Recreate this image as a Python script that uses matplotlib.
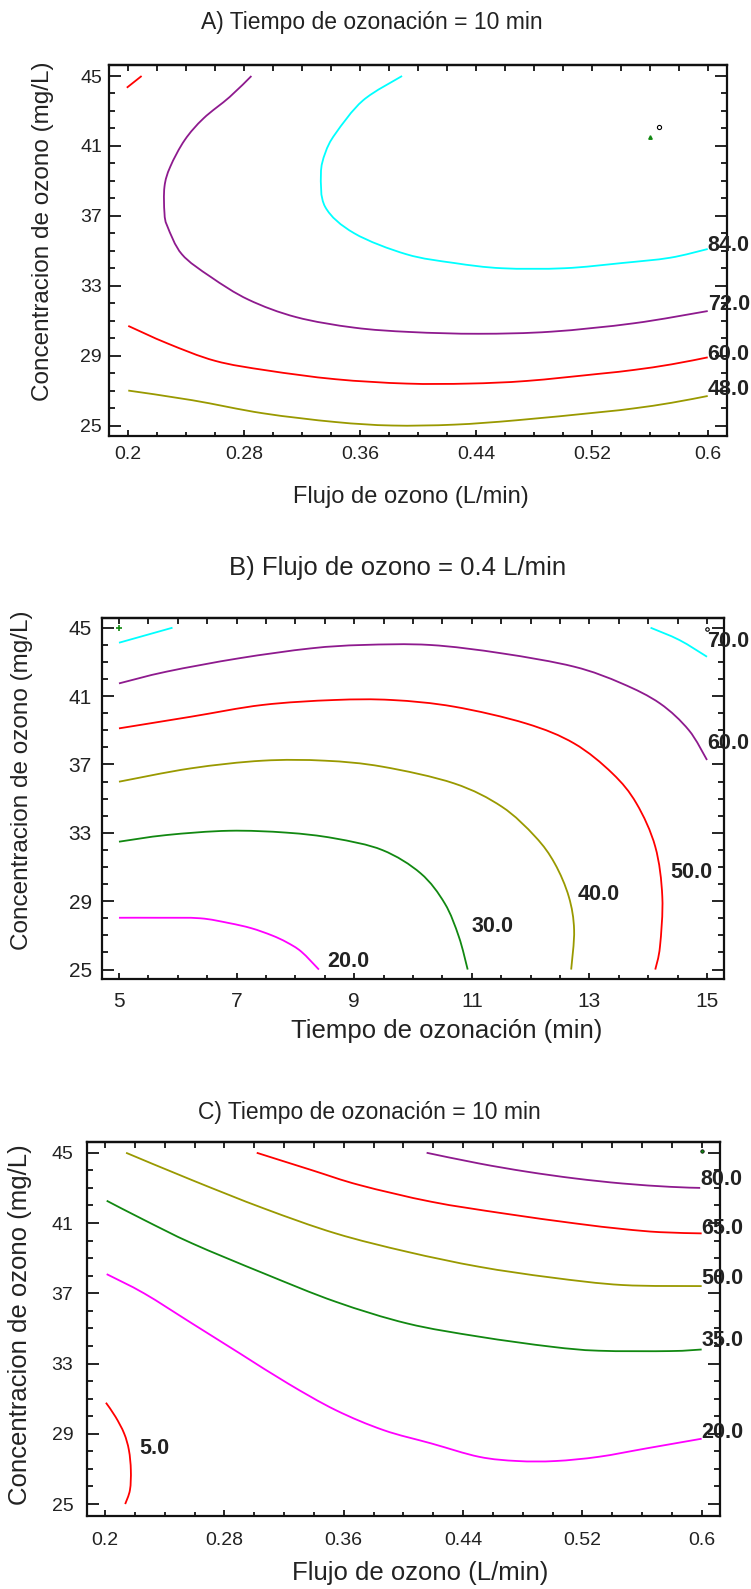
import matplotlib
matplotlib.use("Agg")
import matplotlib.pyplot as plt
from matplotlib.ticker import FixedLocator, MultipleLocator
from matplotlib.path import Path
from matplotlib.patches import PathPatch

plt.rcParams['font.family'] = ['Liberation Sans', 'DejaVu Sans']

# ---------------- data ----------------
# Panel A: Tiempo de ozonacion = 10 min ; x = Flujo (L/min), y = Concentracion (mg/L)
A_levels = ['48.0', '60.0', '72.0', '84.0']
A_x_48 = [0.2, 0.244, 0.293, 0.343, 0.382, 0.425, 0.468, 0.524, 0.549, 0.575, 0.600]
A_y_48 = [27.0, 26.45, 25.7, 25.2, 25.0, 25.05, 25.3, 25.75, 25.98, 26.3, 26.69]
A_x_60 = [0.2, 0.227, 0.260, 0.296, 0.343, 0.392, 0.435, 0.475, 0.524, 0.549, 0.575, 0.600]
A_y_60 = [30.7, 29.7, 28.7, 28.15, 27.65, 27.4, 27.4, 27.55, 27.95, 28.18, 28.5, 28.9]
A_x_72 = [0.285, 0.270, 0.252, 0.239, 0.229, 0.225, 0.225, 0.227, 0.237, 0.257, 0.283,
          0.316, 0.356, 0.395, 0.442, 0.492, 0.549, 0.600]
A_y_72 = [45.0, 43.8, 42.58, 41.34, 39.81, 38.67, 37.16, 36.4, 34.8, 33.5, 32.2,
          31.2, 30.6, 30.35, 30.25, 30.37, 30.85, 31.55]
A_x_84 = [0.389, 0.362, 0.343, 0.336, 0.333, 0.336, 0.356, 0.392, 0.425, 0.458, 0.501, 0.541, 0.574, 0.600]
A_y_84 = [45.0, 43.6, 41.7, 40.6, 39.4, 37.5, 36.0, 34.8, 34.3, 34.0, 34.0, 34.3, 34.6, 35.1]
A_x_top = [0.199, 0.2092]
A_y_top = [44.33, 45.0]
A_pts_x = [0.5604, 0.5663]
A_pts_y = [41.53, 42.1]

# Panel B: Flujo de ozono = 0.4 L/min ; x = Tiempo (min), y = Concentracion (mg/L)
B_levels = ['20.0', '30.0', '40.0', '50.0', '60.0', '70.0']
B_x_20 = [5.0, 5.7, 6.38, 6.87, 7.25, 7.6, 7.85, 8.1, 8.4]
B_y_20 = [28.03, 28.03, 28.0, 27.72, 27.42, 27.0, 26.6, 26.05, 25.0]
B_x_30 = [5.0, 5.81, 6.87, 7.85, 8.66, 9.48, 10.13, 10.54, 10.78, 10.93]
B_y_30 = [32.48, 32.87, 33.12, 33.01, 32.68, 31.99, 30.63, 28.87, 26.92, 25.0]
B_x_40 = [5.0, 6.22, 7.44, 8.5, 9.48, 10.70, 11.51, 12.08, 12.41, 12.65, 12.74, 12.69]
B_y_40 = [35.99, 36.77, 37.22, 37.22, 36.87, 35.89, 34.53, 32.77, 31.21, 29.26, 27.31, 25.0]
B_x_50 = [5.0, 6.22, 7.44, 8.66, 9.64, 10.70, 11.92, 12.74, 13.39, 13.8, 14.12, 14.24, 14.2, 14.12]
B_y_50 = [39.11, 39.79, 40.48, 40.77, 40.77, 40.38, 39.40, 38.23, 36.48, 34.72, 32.19, 29.26, 26.34, 25.0]
B_x_60 = [5.0, 5.81, 7.04, 8.26, 9.15, 10.29, 11.51, 12.74, 13.55, 14.2, 14.69, 15.0]
B_y_60 = [41.74, 42.43, 43.21, 43.79, 43.99, 43.99, 43.50, 42.72, 41.74, 40.57, 39.01, 37.26]
B_x_70a = [5.0, 5.91]
B_y_70a = [44.12, 45.0]
B_x_70b = [14.04, 14.53, 15.0]
B_y_70b = [45.0, 44.28, 43.30]
B_pts_x = [5.0, 15.0]
B_pts_y = [45.0, 44.9]

# Panel C: Tiempo de ozonacion = 10 min ; x = Flujo (L/min), y = Concentracion (mg/L)
C_levels = ['5.0', '20.0', '35.0', '50.0', '65.0', '80.0']
C_x_5 = [0.2006, 0.207, 0.2128, 0.216, 0.2173, 0.2167, 0.2135]
C_y_5 = [30.77, 29.97, 29.02, 28.07, 26.93, 25.80, 25.0]
C_x_20 = [0.2011, 0.2263, 0.2584, 0.2905, 0.3225, 0.3546, 0.3867, 0.4188, 0.4508, 0.4765, 0.502, 0.531, 0.563, 0.6]
C_y_20 = [38.09, 36.99, 35.28, 33.57, 31.87, 30.35, 29.21, 28.45, 27.69, 27.45, 27.45, 27.69, 28.17, 28.72]
C_x_35 = [0.2011, 0.2263, 0.2584, 0.3065, 0.3546, 0.4027, 0.4508, 0.499, 0.531, 0.579, 0.6]
C_y_35 = [42.27, 41.17, 39.84, 38.13, 36.52, 35.28, 34.53, 33.96, 33.73, 33.71, 33.80]
C_x_50 = [0.2141, 0.2584, 0.3065, 0.3546, 0.4027, 0.4508, 0.499, 0.547, 0.6]
C_y_50 = [45.0, 43.44, 41.83, 40.41, 39.36, 38.51, 37.90, 37.47, 37.41]
C_x_65 = [0.3017, 0.3386, 0.3707, 0.4188, 0.4669, 0.515, 0.547, 0.572, 0.6]
C_y_65 = [45.0, 44.01, 43.16, 42.21, 41.55, 40.98, 40.66, 40.48, 40.41]
C_x_80 = [0.4156, 0.4508, 0.483, 0.515, 0.547, 0.579, 0.599]
C_y_80 = [45.0, 44.39, 43.92, 43.54, 43.25, 43.06, 43.0]
C_pts_x = [0.6]
C_pts_y = [45.09]

flujo_ticks = [0.2, 0.28, 0.36, 0.44, 0.52, 0.6]
flujo_labels = ['0.2', '0.28', '0.36', '0.44', '0.52', '0.6']
tiempo_ticks = [5, 7, 9, 11, 13, 15]
tiempo_labels = ['5', '7', '9', '11', '13', '15']
conc_ticks = [25, 29, 33, 37, 41, 45]
conc_labels = ['25', '29', '33', '37', '41', '45']

# ---------------- styling ----------------
CYAN, PURPLE, RED, OLIVE, GREEN, MAGENTA = '#00ffff', '#8e1a8e', '#ff0000', '#999900', '#118811', '#ff00ff'
TXT = '#222222'
LW = 1.3
LABEL_FS = 15.5

W, H = 751, 1589
fig = plt.figure(figsize=(W / 100, H / 100), dpi=100)


def rect(l, t, r, b):
    return [l / W, 1 - b / H, (r - l) / W, (b - t) / H]


def curve(ax, xs, ys, color):
    """Draw a smooth contour line through the read points (Catmull-Rom as Bezier path)."""
    pts = list(zip(xs, ys))
    if len(pts) < 3:
        ax.plot(xs, ys, color=color, lw=LW, solid_capstyle='butt')
        return
    ext = [pts[0]] + pts + [pts[-1]]
    verts = [pts[0]]
    codes = [Path.MOVETO]
    for i in range(1, len(ext) - 2):
        p0, p1, p2, p3 = ext[i - 1], ext[i], ext[i + 1], ext[i + 2]
        c1 = (p1[0] + (p2[0] - p0[0]) / 6.0, p1[1] + (p2[1] - p0[1]) / 6.0)
        c2 = (p2[0] - (p3[0] - p1[0]) / 6.0, p2[1] - (p3[1] - p1[1]) / 6.0)
        verts += [c1, c2, p2]
        codes += [Path.CURVE4] * 3
    ax.add_patch(PathPatch(Path(verts, codes), fill=False, edgecolor=color, lw=LW,
                           capstyle='butt', joinstyle='round'))


def setup(ax, xlim, ylim, xt, xl, xminor, topstep, fs, xpad, ypad):
    ax.set_xlim(xlim)
    ax.set_ylim(ylim)
    ax.xaxis.set_major_locator(FixedLocator(xt))
    ax.set_xticklabels(xl)
    ax.xaxis.set_minor_locator(MultipleLocator(xminor))
    ax.yaxis.set_major_locator(FixedLocator(conc_ticks))
    ax.set_yticklabels(conc_labels)
    ax.yaxis.set_minor_locator(MultipleLocator(1))
    ax.tick_params(axis='x', which='major', direction='in', length=4.5, width=1.2,
                   pad=xpad, labelsize=fs, labelcolor=TXT, bottom=True, top=False)
    ax.tick_params(axis='x', which='minor', direction='in', length=2.6, width=1.2,
                   bottom=True, top=False)
    ax.tick_params(axis='y', which='major', direction='in', length=8.8, width=1.2,
                   left=True, right=True, pad=ypad, labelsize=fs, labelcolor=TXT)
    ax.tick_params(axis='y', which='minor', direction='in', length=4.5, width=1.2,
                   left=True, right=True)
    sec = ax.secondary_xaxis('top')
    sec.xaxis.set_major_locator(MultipleLocator(topstep))
    sec.tick_params(direction='in', length=4.0, width=1.2, labeltop=False)
    sec.spines['top'].set_linewidth(1.6)
    for s in ax.spines.values():
        s.set_linewidth(1.6)
        s.set_color('#111111')


def right_label(ax, xs, ys, text, dy):
    ax.text(xs[-1], ys[-1] + dy, text, ha='left', va='center', fontsize=LABEL_FS,
            fontweight='bold', color=TXT, clip_on=False, zorder=5)


# ---------------- Panel A ----------------
axA = fig.add_axes(rect(109, 65, 726.7, 436))
setup(axA, (0.1867, 0.6131), (24.40, 45.63), flujo_ticks, flujo_labels, 0.02, 0.02, 14, 7.0, 5.0)
for xs, ys, c in [(A_x_48, A_y_48, OLIVE), (A_x_60, A_y_60, RED), (A_x_72, A_y_72, PURPLE),
                  (A_x_84, A_y_84, CYAN), (A_x_top, A_y_top, RED)]:
    curve(axA, xs, ys, c)
axA.plot(A_pts_x[:1], A_pts_y[:1], marker='^', ms=2.5, color=GREEN, ls='none')
axA.plot(A_pts_x[1:], A_pts_y[1:], marker='o', ms=3, mfc='none', mec='black', mew=0.8, ls='none')
for (xs, ys), t, dy in zip([(A_x_48, A_y_48), (A_x_60, A_y_60), (A_x_72, A_y_72), (A_x_84, A_y_84)],
                           A_levels, [0.35, 0.15, 0.35, 0.2]):
    right_label(axA, xs, ys, t, dy)

fig.text(372 / W, 1 - 22 / H, 'A) Tiempo de ozonación = 10 min', ha='center', va='center',
         fontsize=16.5, color=TXT)
fig.text(411 / W, 1 - 497 / H, 'Flujo de ozono (L/min)', ha='center', va='center',
         fontsize=17, color=TXT)
fig.text(43 / W, 1 - 231 / H, 'Concentracion de ozono (mg/L)', ha='center', va='center',
         rotation=90, fontsize=17.5, color=TXT)

# ---------------- Panel B ----------------
axB = fig.add_axes(rect(101.7, 618.3, 723.7, 979.3))
setup(axB, (4.706, 15.284), (24.43, 45.55), tiempo_ticks, tiempo_labels, 0.5, 0.5, 15, 8.9, 7.2)
for xs, ys, c in [(B_x_20, B_y_20, MAGENTA), (B_x_30, B_y_30, GREEN), (B_x_40, B_y_40, OLIVE),
                  (B_x_50, B_y_50, RED), (B_x_60, B_y_60, PURPLE),
                  (B_x_70a, B_y_70a, CYAN), (B_x_70b, B_y_70b, CYAN)]:
    curve(axB, xs, ys, c)
axB.plot(B_pts_x[:1], B_pts_y[:1], marker='+', ms=4, mew=1.2, color=GREEN, ls='none')
axB.plot(B_pts_x[1:], B_pts_y[1:], marker='o', ms=2.5, mfc='none', mec='black', mew=0.8, ls='none')
# inside labels placed next to the lower end of each curve
for xs, ys, t, dx, dy in [(B_x_20, B_y_20, B_levels[0], 0.5, 0.45),
                          (B_x_30, B_y_30, B_levels[1], 0.42, 2.5),
                          (B_x_40, B_y_40, B_levels[2], 0.47, 4.4),
                          (B_x_50, B_y_50, B_levels[3], 0.61, 5.7)]:
    axB.text(xs[-1] + dx, ys[-1] + dy, t, ha='center', va='center', fontsize=LABEL_FS,
             fontweight='bold', color=TXT, zorder=5)
right_label(axB, B_x_60, B_y_60, B_levels[4], 0.95)
right_label(axB, B_x_70b, B_y_70b, B_levels[5], 0.88)

fig.text(398 / W, 1 - 568 / H, 'B) Flujo de ozono = 0.4 L/min', ha='center', va='center',
         fontsize=18.5, color=TXT)
fig.text(447 / W, 1 - 1031 / H, 'Tiempo de ozonación (min)', ha='center', va='center',
         fontsize=18.5, color=TXT)
fig.text(22 / W, 1 - 780 / H, 'Concentracion de ozono (mg/L)', ha='center', va='center',
         rotation=90, fontsize=17.5, color=TXT)

# ---------------- Panel C ----------------
axC = fig.add_axes(rect(86.7, 1141.7, 720.3, 1516))
setup(axC, (0.1877, 0.6125), (24.32, 45.63), flujo_ticks, flujo_labels, 0.02, 0.02, 14, 11.5, 9.6)
for xs, ys, c in [(C_x_5, C_y_5, RED), (C_x_20, C_y_20, MAGENTA), (C_x_35, C_y_35, GREEN),
                  (C_x_50, C_y_50, OLIVE), (C_x_65, C_y_65, RED), (C_x_80, C_y_80, PURPLE)]:
    curve(axC, xs, ys, c)
axC.plot(C_pts_x, C_pts_y, marker='o', ms=2.5, color=GREEN, mec='black', mew=0.5, ls='none')
axC.text(C_x_5[3] + 0.0174, C_y_5[3] + 0.12, C_levels[0], ha='center', va='center', fontsize=LABEL_FS,
         fontweight='bold', color=TXT, zorder=5)
for (xs, ys), t, dy in zip([(C_x_20, C_y_20), (C_x_35, C_y_35), (C_x_50, C_y_50),
                            (C_x_65, C_y_65), (C_x_80, C_y_80)],
                           C_levels[1:], [0.36, 0.5, 0.45, 0.3, 0.45]):
    right_label(axC, xs, ys, t, dy)

fig.text(369 / W, 1 - 1112 / H, 'C) Tiempo de ozonación = 10 min', ha='center', va='center',
         fontsize=16.5, color=TXT)
fig.text(420 / W, 1 - 1573 / H, 'Flujo de ozono (L/min)', ha='center', va='center',
         fontsize=18.5, color=TXT)
fig.text(20 / W, 1 - 1325 / H, 'Concentracion de ozono (mg/L)', ha='center', va='center',
         rotation=90, fontsize=18.5, color=TXT)

fig.savefig('out.png', dpi=100)
